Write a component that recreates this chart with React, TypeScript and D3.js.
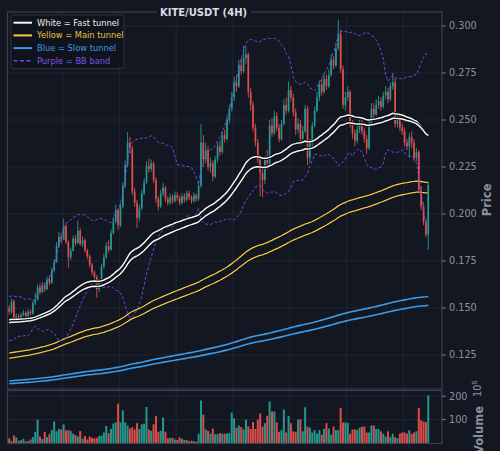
import React from "react";
import * as d3 from "d3";

// KITE/USDT 4H candles (price in USDT, volume in millions)
const opens = [
  0.1500, 0.1480, 0.1535, 0.1430, 0.1455, 0.1448, 0.1462, 0.1475, 0.1458, 0.1480,
  0.1470, 0.1525, 0.1545, 0.1610, 0.1585, 0.1620, 0.1600, 0.1650, 0.1635, 0.1700,
  0.1745, 0.1830, 0.1880, 0.1865, 0.1935, 0.1850, 0.1770, 0.1805, 0.1870, 0.1845,
  0.1910, 0.1840, 0.1860, 0.1805, 0.1775, 0.1730, 0.1690, 0.1665, 0.1600, 0.1640,
  0.1720, 0.1770, 0.1830, 0.1810, 0.1900, 0.1960, 0.2020, 0.1940, 0.2040, 0.2150,
  0.2260, 0.2380, 0.2350, 0.2120, 0.2060, 0.1980, 0.2030, 0.2110, 0.2170, 0.2255,
  0.2240, 0.2270, 0.2180, 0.2080, 0.2040, 0.2110, 0.2140, 0.2080, 0.2060, 0.2090,
  0.2070, 0.2100, 0.2085, 0.2060, 0.2095, 0.2075, 0.2110, 0.2090, 0.2070, 0.2100,
  0.2080, 0.2150, 0.2380, 0.2290, 0.2340, 0.2250, 0.2270, 0.2200, 0.2290, 0.2360,
  0.2330, 0.2420, 0.2400, 0.2500, 0.2560, 0.2620, 0.2700, 0.2680, 0.2790, 0.2760,
  0.2830, 0.2850, 0.2650, 0.2580, 0.2460, 0.2380, 0.2290, 0.2220, 0.2180, 0.2290,
  0.2270, 0.2470, 0.2430, 0.2520, 0.2460, 0.2400, 0.2480, 0.2580, 0.2550, 0.2660,
  0.2620, 0.2540, 0.2450, 0.2480, 0.2400, 0.2440, 0.2560, 0.2300, 0.2380, 0.2470,
  0.2550, 0.2620, 0.2690, 0.2650, 0.2720, 0.2680, 0.2740, 0.2820, 0.2790, 0.2880,
  0.2960, 0.2770, 0.2580, 0.2620, 0.2650, 0.2480, 0.2430, 0.2390, 0.2450, 0.2480,
  0.2440, 0.2400, 0.2350, 0.2480, 0.2560, 0.2530, 0.2580, 0.2600, 0.2570, 0.2630,
  0.2650, 0.2610, 0.2680, 0.2700, 0.2480, 0.2500, 0.2460, 0.2440, 0.2380, 0.2360,
  0.2410, 0.2380, 0.2300, 0.2330, 0.2130, 0.2040, 0.1960, 0.1890,
];
const highs = [
  0.1515, 0.1550, 0.1545, 0.1470, 0.1468, 0.1475, 0.1490, 0.1485, 0.1495, 0.1492,
  0.1540, 0.1580, 0.1625, 0.1630, 0.1640, 0.1635, 0.1668, 0.1672, 0.1715, 0.1760,
  0.1850, 0.1905, 0.1900, 0.1975, 0.1945, 0.1860, 0.1820, 0.1885, 0.1890, 0.1965,
  0.1925, 0.1880, 0.1870, 0.1815, 0.1785, 0.1740, 0.1700, 0.1675, 0.1655, 0.1735,
  0.1790, 0.1850, 0.1860, 0.1920, 0.1985, 0.2050, 0.2030, 0.2060, 0.2170, 0.2285,
  0.2435, 0.2410, 0.2365, 0.2140, 0.2075, 0.2050, 0.2130, 0.2190, 0.2280, 0.2295,
  0.2290, 0.2280, 0.2195, 0.2095, 0.2130, 0.2165, 0.2150, 0.2095, 0.2110, 0.2105,
  0.2120, 0.2115, 0.2100, 0.2110, 0.2110, 0.2125, 0.2125, 0.2100, 0.2115, 0.2110,
  0.2170, 0.2480, 0.2420, 0.2380, 0.2360, 0.2300, 0.2285, 0.2310, 0.2380, 0.2390,
  0.2440, 0.2450, 0.2520, 0.2580, 0.2650, 0.2730, 0.2740, 0.2820, 0.2830, 0.2895,
  0.2890, 0.2860, 0.2670, 0.2600, 0.2480, 0.2400, 0.2310, 0.2240, 0.2310, 0.2340,
  0.2500, 0.2510, 0.2550, 0.2540, 0.2480, 0.2500, 0.2610, 0.2620, 0.2705, 0.2680,
  0.2640, 0.2560, 0.2510, 0.2500, 0.2470, 0.2580, 0.2575, 0.2400, 0.2490, 0.2570,
  0.2650, 0.2710, 0.2720, 0.2750, 0.2740, 0.2770, 0.2850, 0.2840, 0.2910, 0.3035,
  0.2980, 0.2790, 0.2650, 0.2680, 0.2660, 0.2500, 0.2450, 0.2470, 0.2500, 0.2500,
  0.2460, 0.2420, 0.2500, 0.2590, 0.2590, 0.2610, 0.2630, 0.2620, 0.2650, 0.2680,
  0.2670, 0.2700, 0.2750, 0.2720, 0.2530, 0.2520, 0.2480, 0.2460, 0.2400, 0.2430,
  0.2440, 0.2400, 0.2350, 0.2340, 0.2150, 0.2060, 0.1975, 0.2170,
];
const lows = [
  0.1465, 0.1470, 0.1420, 0.1425, 0.1438, 0.1440, 0.1455, 0.1450, 0.1452, 0.1460,
  0.1465, 0.1515, 0.1540, 0.1570, 0.1578, 0.1585, 0.1595, 0.1620, 0.1628, 0.1690,
  0.1740, 0.1820, 0.1845, 0.1860, 0.1840, 0.1715, 0.1755, 0.1800, 0.1830, 0.1840,
  0.1830, 0.1825, 0.1795, 0.1760, 0.1715, 0.1675, 0.1640, 0.1555, 0.1585, 0.1630,
  0.1710, 0.1760, 0.1795, 0.1805, 0.1890, 0.1950, 0.1915, 0.1930, 0.2030, 0.2140,
  0.2250, 0.2320, 0.2100, 0.2040, 0.1925, 0.1960, 0.2020, 0.2100, 0.2160, 0.2220,
  0.2225, 0.2165, 0.2060, 0.2020, 0.2030, 0.2095, 0.2065, 0.2045, 0.2050, 0.2055,
  0.2060, 0.2070, 0.2045, 0.2050, 0.2060, 0.2065, 0.2075, 0.2055, 0.2060, 0.2065,
  0.2070, 0.2140, 0.2250, 0.2270, 0.2230, 0.2220, 0.2175, 0.2190, 0.2275, 0.2310,
  0.2320, 0.2380, 0.2390, 0.2480, 0.2545, 0.2600, 0.2650, 0.2670, 0.2740, 0.2750,
  0.2800, 0.2620, 0.2550, 0.2440, 0.2360, 0.2270, 0.2095, 0.2090, 0.2160, 0.2240,
  0.2260, 0.2410, 0.2420, 0.2440, 0.2380, 0.2390, 0.2470, 0.2530, 0.2540, 0.2600,
  0.2520, 0.2420, 0.2430, 0.2370, 0.2380, 0.2430, 0.2260, 0.2270, 0.2360, 0.2460,
  0.2540, 0.2600, 0.2630, 0.2640, 0.2660, 0.2670, 0.2730, 0.2770, 0.2780, 0.2870,
  0.2750, 0.2560, 0.2550, 0.2600, 0.2460, 0.2400, 0.2360, 0.2375, 0.2430, 0.2420,
  0.2380, 0.2320, 0.2340, 0.2470, 0.2510, 0.2520, 0.2560, 0.2550, 0.2560, 0.2610,
  0.2590, 0.2600, 0.2660, 0.2460, 0.2460, 0.2440, 0.2420, 0.2360, 0.2340, 0.2300,
  0.2350, 0.2280, 0.2280, 0.2110, 0.2020, 0.1940, 0.1875, 0.1810,
];
const closes = [
  0.1480, 0.1535, 0.1430, 0.1455, 0.1448, 0.1462, 0.1475, 0.1458, 0.1480, 0.1470,
  0.1525, 0.1545, 0.1610, 0.1585, 0.1620, 0.1600, 0.1650, 0.1635, 0.1700, 0.1745,
  0.1830, 0.1880, 0.1865, 0.1935, 0.1850, 0.1770, 0.1805, 0.1870, 0.1845, 0.1910,
  0.1840, 0.1860, 0.1805, 0.1775, 0.1730, 0.1690, 0.1665, 0.1600, 0.1640, 0.1720,
  0.1770, 0.1830, 0.1810, 0.1900, 0.1960, 0.2020, 0.1940, 0.2040, 0.2150, 0.2260,
  0.2380, 0.2350, 0.2120, 0.2060, 0.1980, 0.2030, 0.2110, 0.2170, 0.2255, 0.2240,
  0.2270, 0.2180, 0.2080, 0.2040, 0.2110, 0.2140, 0.2080, 0.2060, 0.2090, 0.2070,
  0.2100, 0.2085, 0.2060, 0.2095, 0.2075, 0.2110, 0.2090, 0.2070, 0.2100, 0.2080,
  0.2150, 0.2380, 0.2290, 0.2340, 0.2250, 0.2270, 0.2200, 0.2290, 0.2360, 0.2330,
  0.2420, 0.2400, 0.2500, 0.2560, 0.2620, 0.2700, 0.2680, 0.2790, 0.2760, 0.2830,
  0.2850, 0.2650, 0.2580, 0.2460, 0.2380, 0.2290, 0.2220, 0.2180, 0.2290, 0.2270,
  0.2470, 0.2430, 0.2520, 0.2460, 0.2400, 0.2480, 0.2580, 0.2550, 0.2660, 0.2620,
  0.2540, 0.2450, 0.2480, 0.2400, 0.2440, 0.2560, 0.2300, 0.2380, 0.2470, 0.2550,
  0.2620, 0.2690, 0.2650, 0.2720, 0.2680, 0.2740, 0.2820, 0.2790, 0.2880, 0.2960,
  0.2770, 0.2580, 0.2620, 0.2650, 0.2480, 0.2430, 0.2390, 0.2450, 0.2480, 0.2440,
  0.2400, 0.2350, 0.2480, 0.2560, 0.2530, 0.2580, 0.2600, 0.2570, 0.2630, 0.2650,
  0.2610, 0.2680, 0.2700, 0.2480, 0.2500, 0.2460, 0.2440, 0.2380, 0.2360, 0.2410,
  0.2380, 0.2300, 0.2330, 0.2130, 0.2040, 0.1960, 0.1890, 0.2155,
];
const volumes = [
  20, 8, 32, 24, 10, 12, 18, 7, 8, 15,
  25, 48, 100, 28, 17, 48, 25, 38, 55, 92,
  50, 60, 58, 80, 54, 55, 52, 40, 34, 28,
  51, 18, 30, 15, 28, 22, 20, 22, 30, 32,
  45, 73, 42, 60, 83, 88, 168, 88, 140, 88,
  75, 62, 68, 58, 85, 60, 80, 82, 154, 58,
  52, 80, 116, 48, 52, 109, 48, 20, 22, 22,
  15, 13, 24, 18, 13, 12, 8, 10, 8, 5,
  40, 182, 121, 58, 52, 40, 62, 38, 38, 42,
  40, 40, 40, 42, 130, 105, 65, 75, 68, 58,
  100, 72, 60, 90, 60, 100, 126, 70, 85, 116,
  178, 135, 135, 88, 48, 55, 143, 45, 116, 85,
  50, 48, 100, 102, 50, 153, 70, 65, 45, 55,
  40, 55, 35, 60, 85, 62, 35, 70, 55, 55,
  150, 88, 88, 86, 40, 58, 58, 55, 65, 70,
  70, 45, 45, 75, 75, 60, 60, 50, 40, 28,
  50, 25, 40, 25, 20, 40, 45, 45, 40, 55,
  38, 45, 50, 150, 97, 92, 90, 203,
];
// closes of the 19 candles before the window, used to warm up the Bollinger band
const priorCloses = [
  0.1520, 0.1390, 0.1350, 0.1410, 0.1480, 0.1530, 0.1500, 0.1440, 0.1370, 0.1330,
  0.1380, 0.1450, 0.1510, 0.1490, 0.1430, 0.1400, 0.1460, 0.1500, 0.1480,
];

// tunnel definitions: EMA periods with their starting values
const fastPeriods = [55, 66];
const fastStarts = [0.1436, 0.1421];
const mainPeriods = [195, 220];
const mainStarts = [0.1260, 0.1232];
const slowPeriods = [710, 790];
const slowStarts = [0.1112, 0.1097];
const bbPeriod = 20;
const bbWidth = 2;

const priceTicks = [0.125, 0.15, 0.175, 0.2, 0.225, 0.25, 0.275, 0.3];
const volumeTicks = [100, 200];
const dayGrid = [22.5, 46.5, 70.5, 94.5, 118.5, 142.5, 166.5];
const legendLabels = [
  "White = Fast tunnel",
  "Yellow = Main tunnel",
  "Blue = Slow tunnel",
  "Purple = BB band",
];

const BG = "#131722";
const GRID = "#232836";
const FRAME = "#3a3f4b";
const TICK_TEXT = "#8b919b";
const UP = "#26a69a";
const DOWN = "#ef5350";
const WHITE = "#f4f4f4";
const YELLOW = "#f2c94c";
const BLUE = "#3b9be8";
const PURPLE = "#6f48e0";
const FONT = "DejaVu Sans, sans-serif";

function ema(values: number[], period: number, start: number): number[] {
  const k = 2 / (period + 1);
  let prev = start;
  return values.map((v, i) => {
    if (i > 0) prev = prev + k * (v - prev);
    return prev;
  });
}

function bollinger(values: number[], prior: number[], period: number, width: number) {
  const all = prior.concat(values);
  const upper: number[] = [];
  const lower: number[] = [];
  values.forEach((_, i) => {
    const end = prior.length + i + 1;
    const win = all.slice(Math.max(0, end - period), end);
    const mean = d3.mean(win) as number;
    const sd = Math.sqrt(d3.mean(win, (v) => (v - mean) * (v - mean)) as number);
    upper.push(mean + width * sd);
    lower.push(mean - width * sd);
  });
  return { upper, lower };
}

export default function App() {
  const left = 8;
  const right = 442;
  const top = 12;
  const mainBottom = 389;
  const volTop = 390.5;
  const volBottom = 443.5;

  const x = d3.scaleLinear().domain([-0.5, 182.8]).range([left, right]);
  const y = d3.scaleLinear().domain([0.10691, 0.30745]).range([mainBottom, top]);
  const yv = d3.scaleLinear().domain([0, 224.6]).range([443, volTop]);
  const step = x(1) - x(0);
  const bodyW = step * 0.72;
  const volW = step * 0.84;

  const line = d3
    .line<number>()
    .x((_, i) => x(i))
    .y((v) => y(v));

  const fast = fastPeriods.map((p, k) => ema(closes, p, fastStarts[k]));
  const main = mainPeriods.map((p, k) => ema(closes, p, mainStarts[k]));
  const slow = slowPeriods.map((p, k) => ema(closes, p, slowStarts[k]));
  const bb = bollinger(closes, priorCloses, bbPeriod, bbWidth);

  const legendColors = [WHITE, YELLOW, BLUE, PURPLE];
  const legendText = ["#eeeeee", "#e6c34a", "#3d9be8", "#7b55ea"];

  return (
    <svg
      width={500}
      height={451}
      style={{ position: "absolute", left: 0, top: 0, background: BG }}
      fontFamily={FONT}
    >
      <rect x={0} y={0} width={500} height={451} fill={BG} />

      {/* grid */}
      <g stroke={GRID} strokeWidth={0.8}>
        {priceTicks.map((t) => (
          <line key={"h" + t} x1={left} x2={right} y1={y(t)} y2={y(t)} />
        ))}
        {volumeTicks.map((t) => (
          <line key={"v" + t} x1={left} x2={right} y1={yv(t)} y2={yv(t)} />
        ))}
        {dayGrid.map((g) => (
          <g key={"d" + g}>
            <line x1={x(g)} x2={x(g)} y1={top} y2={mainBottom} />
            <line x1={x(g)} x2={x(g)} y1={volTop} y2={volBottom} />
          </g>
        ))}
      </g>

      {/* slow tunnel */}
      {slow.map((s, k) => (
        <path key={"s" + k} d={line(s) || ""} fill="none" stroke={BLUE} strokeWidth={1.6} />
      ))}

      {/* main tunnel */}
      {main.map((s, k) => (
        <g key={"m" + k}>
          <path d={line(s) || ""} fill="none" stroke="#0b0d12" strokeWidth={2.6} />
          <path d={line(s) || ""} fill="none" stroke={YELLOW} strokeWidth={1.3} />
        </g>
      ))}

      {/* candles */}
      <g>
        {closes.map((c, i) => {
          const o = opens[i];
          const up = c >= o;
          const col = up ? UP : DOWN;
          const yTop = y(Math.max(o, c));
          const yBot = y(Math.min(o, c));
          return (
            <g key={"c" + i} opacity={0.92}>
              <line x1={x(i)} x2={x(i)} y1={y(highs[i])} y2={y(lows[i])} stroke={col} strokeWidth={0.9} />
              <rect
                x={x(i) - bodyW / 2}
                y={yTop}
                width={bodyW}
                height={Math.max(0.8, yBot - yTop)}
                fill={col}
              />
            </g>
          );
        })}
      </g>

      {/* Bollinger band */}
      <path d={line(bb.upper) || ""} fill="none" stroke={PURPLE} strokeWidth={1} strokeDasharray="3,2" />
      <path d={line(bb.lower) || ""} fill="none" stroke={PURPLE} strokeWidth={1} strokeDasharray="3,2" />

      {/* fast tunnel */}
      {fast.map((s, k) => (
        <g key={"f" + k}>
          <path d={line(s) || ""} fill="none" stroke="#0b0d12" strokeWidth={3.2} />
          <path d={line(s) || ""} fill="none" stroke={WHITE} strokeWidth={1.5} />
        </g>
      ))}

      {/* volume */}
      <g>
        {volumes.map((v, i) => {
          const up = closes[i] >= opens[i];
          return (
            <rect
              key={"v" + i}
              x={x(i) - volW / 2}
              y={yv(v)}
              width={volW}
              height={yv(0) - yv(v)}
              fill={up ? UP : DOWN}
              opacity={0.9}
            />
          );
        })}
      </g>

      {/* frames */}
      <rect x={left - 0.5} y={top} width={right - left + 0.5} height={mainBottom - top} fill="none" stroke={FRAME} strokeWidth={1.2} />
      <rect x={left - 0.5} y={volTop} width={right - left + 0.5} height={volBottom - volTop} fill="none" stroke={FRAME} strokeWidth={1.2} />

      {/* price axis */}
      <g>
        {priceTicks.map((t) => (
          <g key={"pt" + t}>
            <line x1={right} x2={right + 4} y1={y(t)} y2={y(t)} stroke={TICK_TEXT} strokeWidth={0.8} />
            <text x={right + 7} y={y(t)} dy="0.35em" fontSize={9.7} fill={TICK_TEXT}>
              {d3.format(".3f")(t)}
            </text>
          </g>
        ))}
        <text
          transform={`translate(${491},${y(0.2075)}) rotate(-90)`}
          textAnchor="middle"
          fontSize={11.5}
          fontWeight="bold"
          fill={TICK_TEXT}
        >
          Price
        </text>
      </g>

      {/* volume axis */}
      <g>
        {volumeTicks.map((t) => (
          <g key={"vt" + t}>
            <line x1={right} x2={right + 4} y1={yv(t)} y2={yv(t)} stroke={TICK_TEXT} strokeWidth={0.8} />
            <text x={right + 7} y={yv(t)} dy="0.35em" fontSize={9.7} fill={TICK_TEXT}>
              {t}
            </text>
          </g>
        ))}
        <text
          transform={`translate(${482.5},${430}) rotate(-90)`}
          textAnchor="middle"
          fontSize={11.5}
          fontWeight="bold"
          fill={TICK_TEXT}
        >
          Volume
        </text>
        <text transform={`translate(${481},${397}) rotate(-90)`} fontSize={9.7} fill={TICK_TEXT}>
          10
          <tspan dy={-4} fontSize={7}>
            6
          </tspan>
        </text>
      </g>

      {/* title */}
      <rect x={157} y={4} width={94} height={15} fill={BG} />
      <text x={203.5} y={16} textAnchor="middle" fontSize={10} fontWeight="bold" fill="#d9dce2">
        KITE/USDT (4H)
      </text>

      {/* legend */}
      <g>
        <rect x={11} y={15} width={113} height={53.5} rx={2} fill="#10131b" fillOpacity={0.92} stroke="#343945" strokeWidth={0.8} />
        {legendLabels.map((lab, k) => {
          const ly = 22.7 + k * 12.7;
          return (
            <g key={lab}>
              <line
                x1={13.5}
                x2={32}
                y1={ly}
                y2={ly}
                stroke={legendColors[k]}
                strokeWidth={k === 3 ? 1.6 : 2}
                strokeDasharray={k === 3 ? "4,2.5" : undefined}
              />
              <text x={37} y={ly} dy="0.35em" fontSize={8.3} fill={legendText[k]}>
                {lab}
              </text>
            </g>
          );
        })}
      </g>
    </svg>
  );
}
